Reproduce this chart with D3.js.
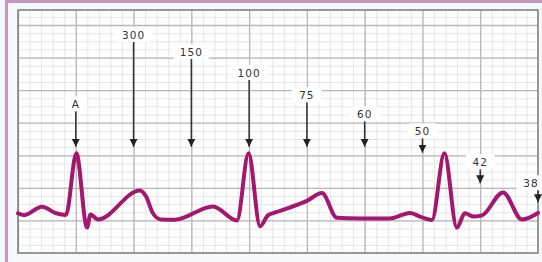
<!DOCTYPE html>
<html>
<head>
<meta charset="utf-8">
<script src="https://cdn.jsdelivr.net/npm/d3@7"></script>
<style>
  body { margin: 0; background: #ffffff; }
  svg { display: block; }
</style>
</head>
<body>
<div id="chart"></div>
<script>
// ECG trace: time (ms) and voltage (mV)
const traceTime = [0, 21, 83, 132, 166, 202, 239, 251, 277, 422, 443, 467, 495, 543,
  675, 758, 798, 838, 865, 896, 1000, 1052, 1104, 1184, 1287, 1357, 1398, 1433,
  1476, 1519, 1547, 1578, 1606, 1679, 1744, 1800]
const traceVolt = [0.11, 0.08, 0.21, 0.11, 0.085, 1.03, -0.11, 0.09, 0.015, 0.46, 0.37, 0.11, 0.015, 0.01,
  0.215, 0.0, 1.03, -0.09, 0.077, 0.13, 0.30, 0.42, 0.04, 0.03, 0.03, 0.115, 0.046, 0.008,
  1.03, -0.11, 0.11, 0.06, 0.077, 0.43, 0.015, 0.115]

// rate markers on each big box
const markerLabels = ["A", "300", "150", "100", "75", "60", "50", "42", "38"]
const markerTime = [200, 400, 600, 800, 1000, 1200, 1400, 1600, 1800]
const markerLevel = [1.785, 2.846, 2.585, 2.262, 1.923, 1.631, 1.369, 0.892, 0.569]
const markerTip = [1.13, 1.13, 1.13, 1.13, 1.13, 1.13, 1.04, 0.57, 0.28]

const width = 542, height = 262
const box = { left: 18, right: 538, top: 10, bottom: 253 }

const x = d3.scaleLinear().domain([0, 1800]).range([box.left, box.right])
const y = d3.scaleLinear().domain([-0.5, 3.23]).range([box.bottom, box.top])

const svg = d3.select("#chart").append("svg")
    .attr("width", width)
    .attr("height", height)

// outer frame
svg.append("rect")
    .attr("x", 0).attr("y", 0).attr("width", width).attr("height", height)
    .attr("fill", "#f6f9fc")
svg.append("rect")
    .attr("x", 6.5).attr("y", 1.5).attr("width", width + 10).attr("height", height + 10)
    .attr("fill", "none").attr("stroke", "#c899bd").attr("stroke-width", 3)

svg.append("defs").append("clipPath").attr("id", "clip")
    .append("rect")
    .attr("x", box.left).attr("y", box.top)
    .attr("width", box.right - box.left).attr("height", box.bottom - box.top)

svg.append("rect")
    .attr("x", box.left).attr("y", box.top)
    .attr("width", box.right - box.left).attr("height", box.bottom - box.top)
    .attr("fill", "#ffffff")

const grid = svg.append("g").attr("clip-path", "url(#clip)")

// minor grid
grid.append("g")
    .attr("transform", `translate(0,${box.bottom})`)
    .call(d3.axisBottom(x).tickValues(d3.range(0, 1801, 40)).tickSize(-(box.bottom - box.top)).tickFormat(""))
    .call(g => g.select(".domain").remove())
    .call(g => g.selectAll("line").attr("stroke", "#e6e6e6"))
grid.append("g")
    .attr("transform", `translate(${box.left},0)`)
    .call(d3.axisLeft(y).tickValues(d3.range(-0.5, 3.3, 0.125)).tickSize(-(box.right - box.left)).tickFormat(""))
    .call(g => g.select(".domain").remove())
    .call(g => g.selectAll("line").attr("stroke", "#e6e6e6"))

// major grid
grid.append("g")
    .attr("transform", `translate(0,${box.bottom})`)
    .call(d3.axisBottom(x).tickValues(d3.range(0, 1801, 200)).tickSize(-(box.bottom - box.top)).tickFormat(""))
    .call(g => g.select(".domain").remove())
    .call(g => g.selectAll("line").attr("stroke", "#b8b8b8").attr("stroke-width", 1.3))
grid.append("g")
    .attr("transform", `translate(${box.left},0)`)
    .call(d3.axisLeft(y).tickValues(d3.range(-0.5, 3.3, 0.5)).tickSize(-(box.right - box.left)).tickFormat(""))
    .call(g => g.select(".domain").remove())
    .call(g => g.selectAll("line").attr("stroke", "#b8b8b8").attr("stroke-width", 1.3))

// border
svg.append("rect")
    .attr("x", box.left).attr("y", box.top)
    .attr("width", box.right - box.left).attr("height", box.bottom - box.top)
    .attr("fill", "none").attr("stroke", "#7a7a7a").attr("stroke-width", 1.5)

// trace
const trace = traceTime.map((t, i) => [t, traceVolt[i]])
svg.append("path")
    .datum(trace)
    .attr("fill", "none")
    .attr("stroke", "#a3176f")
    .attr("stroke-width", 4)
    .attr("stroke-linejoin", "round")
    .attr("stroke-linecap", "round")
    .attr("d", d3.line().x(d => x(d[0])).y(d => y(d[1])).curve(d3.curveMonotoneX))

// arrows with labels
svg.select("defs").append("marker")
    .attr("id", "head")
    .attr("viewBox", "0 0 10 10")
    .attr("refX", 10).attr("refY", 5)
    .attr("markerWidth", 8).attr("markerHeight", 8)
    .attr("markerUnits", "userSpaceOnUse")
    .attr("orient", "auto")
    .append("path").attr("d", "M0,0L10,5L0,10z").attr("fill", "#222")

const markers = svg.append("g")
    .selectAll("g")
    .data(markerLabels)
    .join("g")

markers.append("line")
    .attr("x1", (d, i) => x(markerTime[i]))
    .attr("x2", (d, i) => x(markerTime[i]))
    .attr("y1", (d, i) => y(markerLevel[i]) + 7)
    .attr("y2", (d, i) => y(markerTip[i]))
    .attr("stroke", "#333")
    .attr("stroke-width", 1.5)
    .attr("marker-end", "url(#head)")

const boxW = d => d.length * 8 + 14
// keep label inside the picture
const labelX = (d, i) => Math.min(x(markerTime[i]), width - 1 - d.length * 4 - 2)

markers.append("rect")
    .attr("x", (d, i) => labelX(d, i) - boxW(d) / 2)
    .attr("y", (d, i) => y(markerLevel[i]) - 8)
    .attr("width", boxW)
    .attr("height", 15)
    .attr("rx", 4)
    .attr("fill", "#ffffff")

markers.append("text")
    .attr("x", labelX)
    .attr("y", (d, i) => y(markerLevel[i]))
    .attr("dy", "0.35em")
    .attr("text-anchor", "middle")
    .attr("font-family", "DejaVu Sans, sans-serif")
    .attr("font-size", 10.5)
    .attr("letter-spacing", 1)
    .attr("fill", "#333")
    .text(d => d)
</script>
</body>
</html>
